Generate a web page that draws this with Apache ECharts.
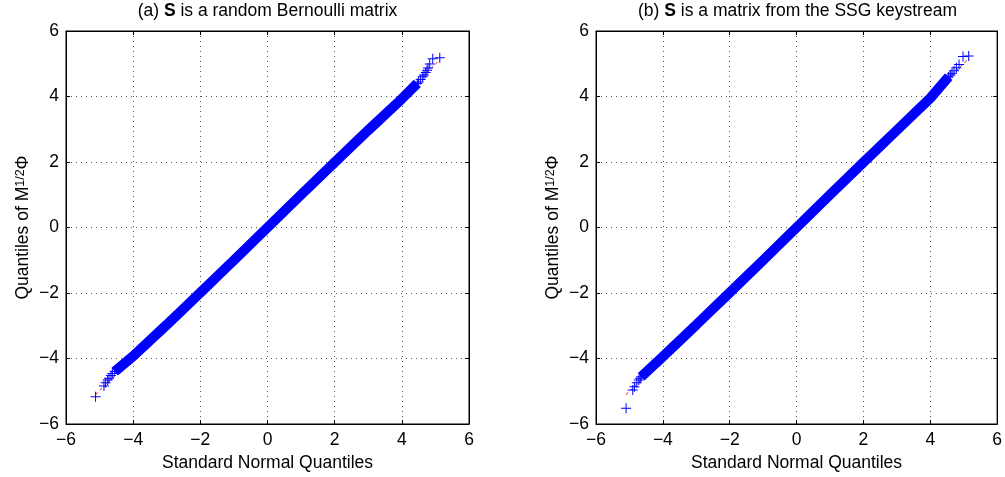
<!DOCTYPE html>
<html><head><meta charset="utf-8">
<script src="https://cdn.jsdelivr.net/npm/echarts@6/dist/echarts.min.js"></script>
<style>html,body{margin:0;padding:0;background:#fff}#c{width:1005px;height:477px}</style>
</head><body><div id="c"></div>
<script>
const tickValues = [-6, -4, -2, 0, 2, 4, 6];
const titles = ['(a) {b|S} is a random Bernoulli matrix', '(b) {b|S} is a matrix from the SSG keystream'];
const xName = 'Standard Normal Quantiles';
const yName = 'Quantiles of M{sup|1/2}Φ';

// Plot (a): quantile pairs
const lowAx  = [-5.12, -4.87, -4.82, -4.76, -4.72, -4.66, -4.62];
const lowAy  = [-5.17, -4.84, -4.74, -4.66, -4.60, -4.52, -4.46];
const bodyAx = [-4.55, -4.00, -3.00, -2.00, -1.00, 0.00, 1.00, 2.00, 3.00, 4.00, 4.46];
const bodyAy = [-4.40, -3.93, -2.97, -1.99, -1.00, 0.00, 1.00, 1.99, 2.97, 3.93, 4.40];
const highAx = [4.50, 4.56, 4.62, 4.66, 4.71, 4.75, 4.78, 4.83, 4.92, 5.13];
const highAy = [4.44, 4.52, 4.60, 4.66, 4.73, 4.80, 4.87, 4.99, 5.15, 5.18];
const refAx  = [-5.12, 5.13];
const refAy  = [-5.10, 5.12];

// Plot (b)
const lowBx  = [-5.10, -4.90, -4.85, -4.78, -4.72, -4.68];
const lowBy  = [-5.52, -4.96, -4.86, -4.74, -4.66, -4.60];
const bodyBx = [-4.65, -4.00, -3.00, -2.00, -1.00, 0.00, 1.00, 2.00, 3.00, 4.00, 4.55];
const bodyBy = [-4.56, -3.94, -2.97, -1.99, -1.00, 0.00, 1.00, 1.99, 2.97, 3.95, 4.60];
const highBx = [4.60, 4.65, 4.71, 4.78, 4.86, 4.98, 5.15];
const highBy = [4.66, 4.71, 4.79, 4.88, 4.98, 5.22, 5.24];
const refBx  = [-5.10, 5.15];
const refBy  = [-5.10, 5.16];

const FONT = '"Liberation Sans", Arial, Helvetica, sans-serif';
const FS = 17.5;
const BLUE = '#0000ff';
const PLUS = 'path://M4.5,0h1v4.5h4.5v1h-4.5v4.5h-1v-4.5h-4.5v-1h4.5z';
const zip = (a, b) => a.map((v, i) => [v, b[i]]);
const fmt = v => (v < 0 ? '\u2212' + Math.abs(v) : String(v));

const grids = [
  { left: 66, top: 31, width: 403, height: 393 },
  { left: 596, top: 31, width: 403, height: 393 }
];
const tmin = tickValues[0], tmax = tickValues[tickValues.length - 1], tint = tickValues[1] - tickValues[0];
const gridLine = { show: true, lineStyle: { color: '#555', type: [1, 4], width: 1 } };

function mainX(gi) {
  return {
    type: 'value', gridIndex: gi, min: tmin, max: tmax, interval: tint, position: 'bottom',
    name: xName, nameLocation: 'middle', nameGap: 28,
    nameTextStyle: { fontSize: FS, color: '#000', fontFamily: FONT },
    axisLine: { onZero: false, lineStyle: { color: '#000', width: 1 } },
    axisTick: { inside: true, length: 4, lineStyle: { color: '#000' } },
    axisLabel: { formatter: fmt, fontSize: FS, color: '#000', fontFamily: FONT, margin: 7 },
    splitLine: gridLine
  };
}
function topX(gi) {
  return {
    type: 'value', gridIndex: gi, min: tmin, max: tmax, interval: tint, position: 'top',
    axisLine: { onZero: false, lineStyle: { color: '#000', width: 1 } },
    axisTick: { inside: true, length: 4, lineStyle: { color: '#000' } },
    axisLabel: { show: false }, splitLine: { show: false }
  };
}
function mainY(gi) {
  return {
    type: 'value', gridIndex: gi, min: tmin, max: tmax, interval: tint, position: 'left',
    name: yName, nameLocation: 'middle', nameGap: 34, nameRotate: 90,
    nameTextStyle: { fontSize: FS, color: '#000', fontFamily: FONT,
      rich: { sup: { fontSize: 12.5, color: '#000', fontFamily: FONT, verticalAlign: 'top' } } },
    axisLine: { onZero: false, lineStyle: { color: '#000', width: 1 } },
    axisTick: { inside: true, length: 4, lineStyle: { color: '#000' } },
    axisLabel: { formatter: fmt, fontSize: FS, color: '#000', fontFamily: FONT, margin: 7 },
    splitLine: gridLine
  };
}
function rightY(gi) {
  return {
    type: 'value', gridIndex: gi, min: tmin, max: tmax, interval: tint, position: 'right',
    axisLine: { onZero: false, lineStyle: { color: '#000', width: 1 } },
    axisTick: { inside: true, length: 4, lineStyle: { color: '#000' } },
    axisLabel: { show: false }, splitLine: { show: false }
  };
}

function seriesFor(xi, yi, refX, refY, bx, by, pts) {
  return [
    { type: 'line', xAxisIndex: xi, yAxisIndex: yi, data: zip(refX, refY), symbol: 'none', silent: true,
      lineStyle: { color: '#ff0000', width: 1, type: [3, 3] }, z: 1 },
    { type: 'line', xAxisIndex: xi, yAxisIndex: yi, data: zip(bx, by), symbol: 'none', silent: true,
      lineStyle: { color: BLUE, width: 10 }, z: 2 },
    { type: 'scatter', xAxisIndex: xi, yAxisIndex: yi, data: pts, symbol: PLUS, symbolSize: 10, silent: true,
      itemStyle: { color: BLUE, opacity: 1 }, z: 3 }
  ];
}

const ptsA = zip(lowAx, lowAy).concat(zip(bodyAx, bodyAy), zip(highAx, highAy));
const ptsB = zip(lowBx, lowBy).concat(zip(bodyBx, bodyBy), zip(highBx, highBy));

const chart = echarts.init(document.getElementById('c'), null, { renderer: 'canvas' });
chart.setOption({
  animation: false,
  backgroundColor: '#fff',
  title: titles.map((t, i) => ({
    text: t, left: grids[i].left + grids[i].width / 2, top: 2, textAlign: 'center', padding: 0,
    textStyle: { fontSize: FS, fontWeight: 'normal', color: '#000', fontFamily: FONT,
      rich: { b: { fontSize: FS, fontWeight: 'bold', color: '#000', fontFamily: FONT } } }
  })),
  grid: grids.map(g => Object.assign({ show: true, borderColor: '#000', borderWidth: 1, backgroundColor: '#fff' }, g)),
  xAxis: [mainX(0), topX(0), mainX(1), topX(1)],
  yAxis: [mainY(0), rightY(0), mainY(1), rightY(1)],
  series: [].concat(
    seriesFor(0, 0, refAx, refAy, bodyAx, bodyAy, ptsA),
    seriesFor(2, 2, refBx, refBy, bodyBx, bodyBy, ptsB)
  )
});
</script></body></html>
